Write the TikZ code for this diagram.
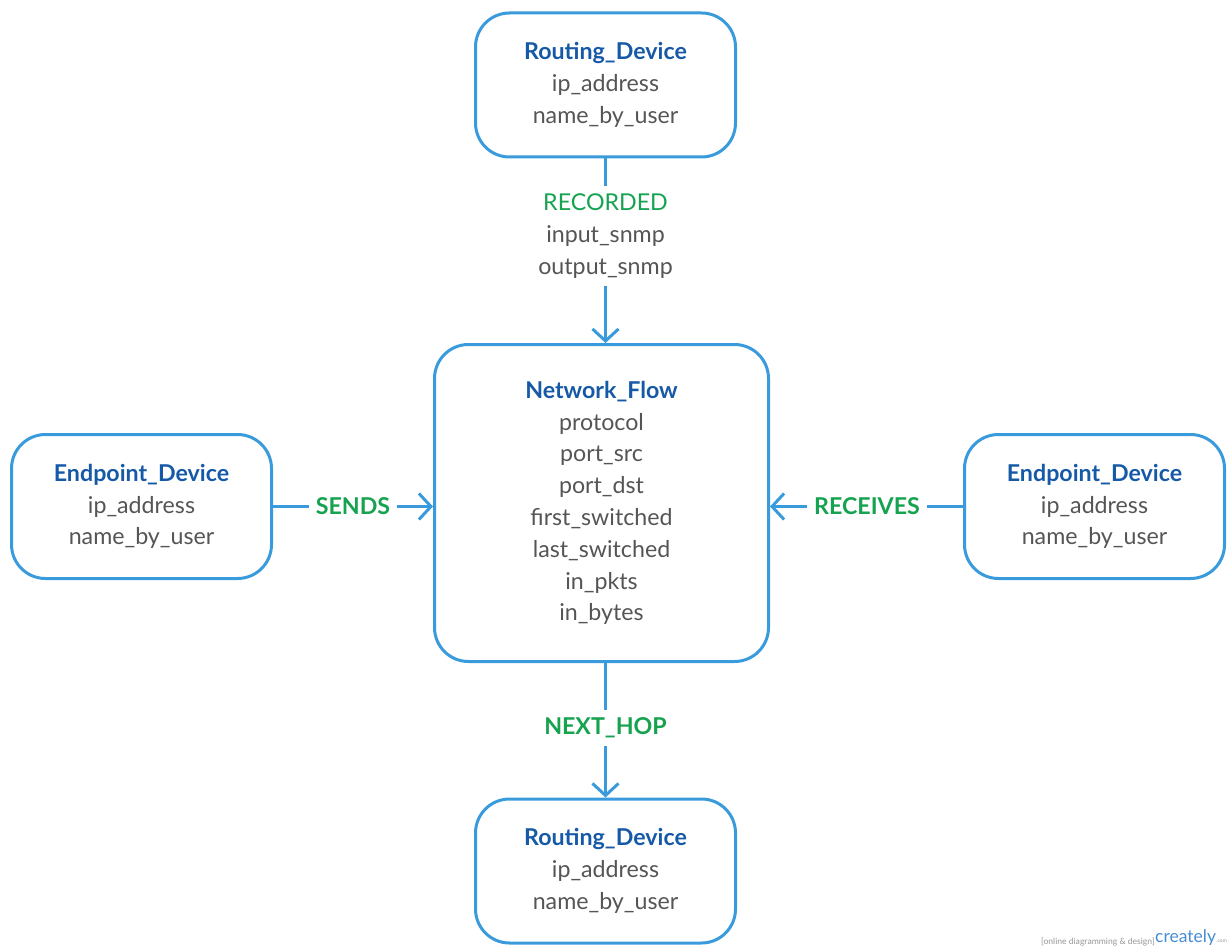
\documentclass[tikz,border=0pt]{standalone}
\usepackage{fontspec}
\setmainfont{Lato}
\usetikzlibrary{arrows.meta}

\definecolor{boxblue}{RGB}{58,155,220}
\definecolor{titleblue}{RGB}{22,89,166}
\definecolor{bodygray}{RGB}{85,85,85}
\definecolor{relgreen}{RGB}{22,163,80}
\definecolor{markgray}{RGB}{150,150,150}
\definecolor{markblue}{RGB}{70,140,210}

\tikzset{
  entity/.style={draw=boxblue, line width=3pt, rounded corners=34pt,
    align=center, text=bodygray, inner sep=0pt,
    font=\fontsize{23.2}{31.8}\selectfont},
  smallbox/.style={entity, minimum width=260pt, minimum height=144pt},
  plain/.style={draw=boxblue, line width=3pt},
  link/.style={plain, -{Straight Barb[length=12pt,width=26pt]}},
  rel/.style={fill=white, text=relgreen, align=center,
    inner xsep=7pt, inner ysep=8pt,
    font=\fontsize{23.2}{31.8}\selectfont},
}
\newcommand\entname[1]{{\color{titleblue}\bfseries #1}}

\begin{document}
\begin{tikzpicture}[x=1pt, y=-1pt]
  \useasboundingbox (0,0) rectangle (1229,947);

  % entities
  \node[smallbox] (rtop) at (605.5,85)
    {\entname{Routing\_Device}\\ip\_address\\name\_by\_user};
  \node[entity, minimum width=334pt, minimum height=317pt] (flow) at (601.5,503)
    {\entname{Network\_Flow}\\protocol\\port\_src\\port\_dst\\first\_switched\\last\_switched\\in\_pkts\\in\_bytes};
  \node[smallbox] (esrc) at (141.5,506.5)
    {\entname{Endpoint\_Device}\\ip\_address\\name\_by\_user};
  \node[smallbox] (edst) at (1094.5,506.5)
    {\entname{Endpoint\_Device}\\ip\_address\\name\_by\_user};
  \node[smallbox] (rbot) at (605.5,871)
    {\entname{Routing\_Device}\\ip\_address\\name\_by\_user};

  % relationship labels
  \node[rel] (recorded) at (605.5,236)
    {RECORDED\\{\color{bodygray}input\_snmp}\\{\color{bodygray}output\_snmp}};
  \node[rel] (sends) at (353,506.5) {\bfseries SENDS};
  \node[rel] (receives) at (867,506.5) {\bfseries RECEIVES};
  \node[rel] (nexthop) at (605.5,728) {\bfseries NEXT\_HOP};

  % connectors
  \draw[plain] (rtop) -- (recorded);
  \draw[link] (recorded) -- (recorded |- flow.north);
  \draw[plain] (esrc) -- (sends);
  \draw[link] (sends) -- (sends -| flow.west);
  \draw[plain] (edst) -- (receives);
  \draw[link] (receives) -- (receives -| flow.east);
  \draw[plain] (nexthop |- flow.south) -- (nexthop);
  \draw[link] (nexthop) -- (rbot);

  % footer mark
  \node[anchor=base west, inner sep=0pt, text=markgray,
    font=\fontsize{8.6}{9}\selectfont] (markcap) at (1041,944)
    {[online diagramming \& design]};
  \node[anchor=base west, inner sep=0pt, text=markblue,
    font=\fontsize{17.5}{19}\selectfont] (markname) at (1155,942) {creately};
  \node[anchor=base west, inner sep=0pt, text=markgray,
    font=\fontsize{5}{6}\selectfont] (marktld) at (markname.base east) {.com};
\end{tikzpicture}
\end{document}
